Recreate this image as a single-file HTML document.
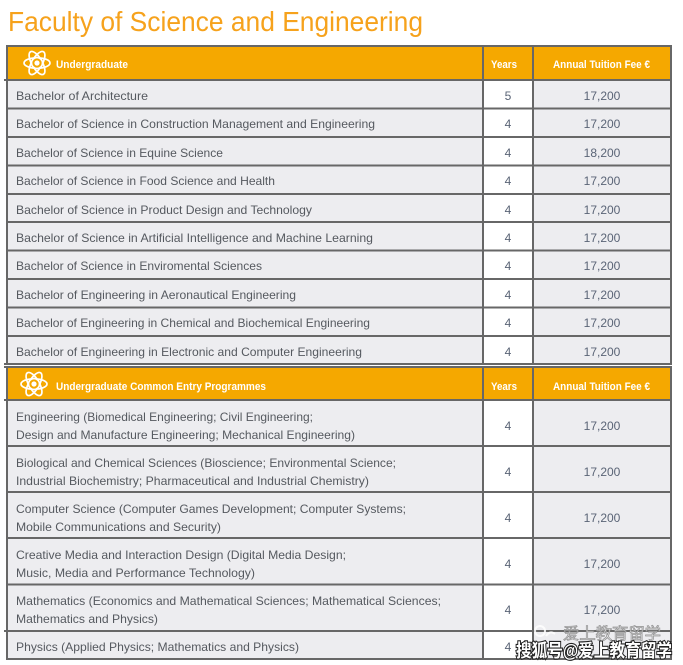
<!DOCTYPE html>
<html><head><meta charset="utf-8"><style>
html,body{margin:0;padding:0;background:#fff;}
svg{display:block;}
.t{font-family:"Liberation Sans",Arial,sans-serif;font-size:12px;fill:#55595f;}
.n{font-family:"Liberation Sans",Arial,sans-serif;font-size:12px;fill:#5a6476;text-anchor:middle;}
.h{font-family:"Liberation Sans",Arial,sans-serif;font-size:11px;fill:#fff;font-weight:bold;}
</style></head><body>
<svg width="683" height="665" viewBox="0 0 683 665" xmlns="http://www.w3.org/2000/svg">
<defs>
<g id="atom" fill="none" stroke="#fff" stroke-width="1.7">
<ellipse cx="0" cy="0" rx="13" ry="5.2"/>
<ellipse cx="0" cy="0" rx="13" ry="5.2" transform="rotate(60)"/>
<ellipse cx="0" cy="0" rx="13" ry="5.2" transform="rotate(120)"/>
<circle cx="0" cy="0" r="5.5" fill="#f5a800"/>
<circle cx="0" cy="0" r="2.6" fill="#fff" stroke="none"/>
</g>
</defs>
<rect width="683" height="665" fill="#fff"/>
<text x="8" y="31" font-family="'Liberation Sans',Arial,sans-serif" font-size="28" fill="#f6a21c" textLength="415" lengthAdjust="spacingAndGlyphs">Faculty of Science and Engineering</text>

<!-- section 1 backgrounds -->
<rect x="8" y="47" width="662" height="32" fill="#f5a800"/>
<rect x="8" y="81" width="474" height="283" fill="#ededf0"/>
<rect x="484" y="81" width="48" height="283" fill="#fff"/>
<rect x="534" y="81" width="136" height="283" fill="#ededf0"/>
<!-- section 2 backgrounds -->
<rect x="8" y="368" width="662" height="31" fill="#f5a800"/>
<rect x="8" y="401" width="474" height="257" fill="#ededf0"/>
<rect x="484" y="401" width="48" height="257" fill="#fff"/>
<rect x="534" y="401" width="136" height="257" fill="#ededf0"/>

<g stroke="#676767" stroke-width="2" fill="none">
<!-- section 1 grid -->
<line x1="7" y1="45" x2="7" y2="365"/>
<line x1="483" y1="45" x2="483" y2="365"/>
<line x1="533" y1="45" x2="533" y2="365"/>
<line x1="671" y1="45" x2="671" y2="365"/>
<line x1="6" y1="46" x2="672" y2="46"/>
<line x1="4" y1="80" x2="672" y2="80"/>
<line x1="6" y1="108.5" x2="672" y2="108.5"/>
<line x1="6" y1="137" x2="672" y2="137"/>
<line x1="6" y1="165.5" x2="672" y2="165.5"/>
<line x1="6" y1="194" x2="672" y2="194"/>
<line x1="6" y1="222" x2="672" y2="222"/>
<line x1="6" y1="250.5" x2="672" y2="250.5"/>
<line x1="6" y1="279" x2="672" y2="279"/>
<line x1="6" y1="307.5" x2="672" y2="307.5"/>
<line x1="6" y1="336" x2="672" y2="336"/>
<line x1="4" y1="364" x2="672" y2="364"/>
<!-- section 2 grid -->
<line x1="7" y1="366" x2="7" y2="660"/>
<line x1="483" y1="366" x2="483" y2="660"/>
<line x1="533" y1="366" x2="533" y2="660"/>
<line x1="671" y1="366" x2="671" y2="660"/>
<line x1="4" y1="367" x2="672" y2="367"/>
<line x1="4" y1="400" x2="672" y2="400"/>
<line x1="6" y1="446" x2="672" y2="446"/>
<line x1="6" y1="492" x2="672" y2="492"/>
<line x1="6" y1="538" x2="672" y2="538"/>
<line x1="6" y1="584.5" x2="672" y2="584.5"/>
<line x1="4" y1="631" x2="672" y2="631"/>
<line x1="6" y1="659" x2="672" y2="659"/>
</g>

<!-- headers -->
<use href="#atom" x="37" y="63"/>
<text class="h" x="56" y="68" textLength="72" lengthAdjust="spacingAndGlyphs">Undergraduate</text>
<text class="h" x="491" y="68" textLength="26" lengthAdjust="spacingAndGlyphs">Years</text>
<text class="h" x="553" y="68" textLength="97" lengthAdjust="spacingAndGlyphs">Annual Tuition Fee €</text>

<use href="#atom" x="34" y="384"/>
<text class="h" x="56" y="390" textLength="210" lengthAdjust="spacingAndGlyphs">Undergraduate Common Entry Programmes</text>
<text class="h" x="491" y="390" textLength="26" lengthAdjust="spacingAndGlyphs">Years</text>
<text class="h" x="553" y="390" textLength="97" lengthAdjust="spacingAndGlyphs">Annual Tuition Fee €</text>

<!-- section 1 rows -->
<text class="t" x="16" y="100" textLength="132" lengthAdjust="spacingAndGlyphs">Bachelor of Architecture</text>
<text class="t" x="16" y="128" textLength="359" lengthAdjust="spacingAndGlyphs">Bachelor of Science in Construction Management and Engineering</text>
<text class="t" x="16" y="157" textLength="207" lengthAdjust="spacingAndGlyphs">Bachelor of Science in Equine Science</text>
<text class="t" x="16" y="185" textLength="259" lengthAdjust="spacingAndGlyphs">Bachelor of Science in Food Science and Health</text>
<text class="t" x="16" y="214" textLength="296" lengthAdjust="spacingAndGlyphs">Bachelor of Science in Product Design and Technology</text>
<text class="t" x="16" y="242" textLength="357" lengthAdjust="spacingAndGlyphs">Bachelor of Science in Artificial Intelligence and Machine Learning</text>
<text class="t" x="16" y="270" textLength="246" lengthAdjust="spacingAndGlyphs">Bachelor of Science in Enviromental Sciences</text>
<text class="t" x="16" y="299" textLength="280" lengthAdjust="spacingAndGlyphs">Bachelor of Engineering in Aeronautical Engineering</text>
<text class="t" x="16" y="327" textLength="354" lengthAdjust="spacingAndGlyphs">Bachelor of Engineering in Chemical and Biochemical Engineering</text>
<text class="t" x="16" y="356" textLength="346" lengthAdjust="spacingAndGlyphs">Bachelor of Engineering in Electronic and Computer Engineering</text>

<text class="n" x="508" y="100">5</text>
<text class="n" x="508" y="128">4</text>
<text class="n" x="508" y="157">4</text>
<text class="n" x="508" y="185">4</text>
<text class="n" x="508" y="214">4</text>
<text class="n" x="508" y="242">4</text>
<text class="n" x="508" y="270">4</text>
<text class="n" x="508" y="299">4</text>
<text class="n" x="508" y="327">4</text>
<text class="n" x="508" y="356">4</text>

<text class="n" x="602" y="100">17,200</text>
<text class="n" x="602" y="128">17,200</text>
<text class="n" x="602" y="157">18,200</text>
<text class="n" x="602" y="185">17,200</text>
<text class="n" x="602" y="214">17,200</text>
<text class="n" x="602" y="242">17,200</text>
<text class="n" x="602" y="270">17,200</text>
<text class="n" x="602" y="299">17,200</text>
<text class="n" x="602" y="327">17,200</text>
<text class="n" x="602" y="356">17,200</text>

<!-- section 2 rows -->
<text class="t" x="16" y="421" textLength="297" lengthAdjust="spacingAndGlyphs">Engineering (Biomedical Engineering; Civil Engineering;</text>
<text class="t" x="16" y="439" textLength="339" lengthAdjust="spacingAndGlyphs">Design and Manufacture Engineering; Mechanical Engineering)</text>
<text class="t" x="16" y="467" textLength="380" lengthAdjust="spacingAndGlyphs">Biological and Chemical Sciences (Bioscience; Environmental Science;</text>
<text class="t" x="16" y="485" textLength="353" lengthAdjust="spacingAndGlyphs">Industrial Biochemistry; Pharmaceutical and Industrial Chemistry)</text>
<text class="t" x="16" y="513" textLength="390" lengthAdjust="spacingAndGlyphs">Computer Science (Computer Games Development; Computer Systems;</text>
<text class="t" x="16" y="531" textLength="205" lengthAdjust="spacingAndGlyphs">Mobile Communications and Security)</text>
<text class="t" x="16" y="559" textLength="330" lengthAdjust="spacingAndGlyphs">Creative Media and Interaction Design (Digital Media Design;</text>
<text class="t" x="16" y="577" textLength="239" lengthAdjust="spacingAndGlyphs">Music, Media and Performance Technology)</text>
<text class="t" x="16" y="605" textLength="425" lengthAdjust="spacingAndGlyphs">Mathematics (Economics and Mathematical Sciences; Mathematical Sciences;</text>
<text class="t" x="16" y="623" textLength="142" lengthAdjust="spacingAndGlyphs">Mathematics and Physics)</text>
<text class="t" x="16" y="651" textLength="283" lengthAdjust="spacingAndGlyphs">Physics (Applied Physics; Mathematics and Physics)</text>

<text class="n" x="508" y="430">4</text>
<text class="n" x="508" y="476">4</text>
<text class="n" x="508" y="522">4</text>
<text class="n" x="508" y="568">4</text>
<text class="n" x="508" y="614">4</text>
<text class="n" x="508" y="651">4</text>

<text class="n" x="602" y="430">17,200</text>
<text class="n" x="602" y="476">17,200</text>
<text class="n" x="602" y="522">17,200</text>
<text class="n" x="602" y="568">17,200</text>
<text class="n" x="602" y="614">17,200</text>

<!-- watermark -->
<g opacity="0.85">
<circle cx="540" cy="631" r="5" fill="none" stroke="#fff" stroke-width="2"/>
<path d="M546 636 q4 -6 9 -2" fill="none" stroke="#fff" stroke-width="2"/>
<text x="563" y="639" font-family="'Liberation Sans','Noto Sans CJK SC',sans-serif" font-size="16" fill="#fff" stroke="#888" stroke-width="0.8" textLength="98" lengthAdjust="spacingAndGlyphs">爱上教育留学</text>
</g>
<text x="516" y="657" font-family="'Liberation Sans','Noto Sans CJK SC',sans-serif" font-size="18" font-weight="bold" fill="#fff" stroke="#222" stroke-width="2.2" paint-order="stroke" textLength="156" lengthAdjust="spacingAndGlyphs">搜狐号@爱上教育留学</text>
</svg>
</body></html>
